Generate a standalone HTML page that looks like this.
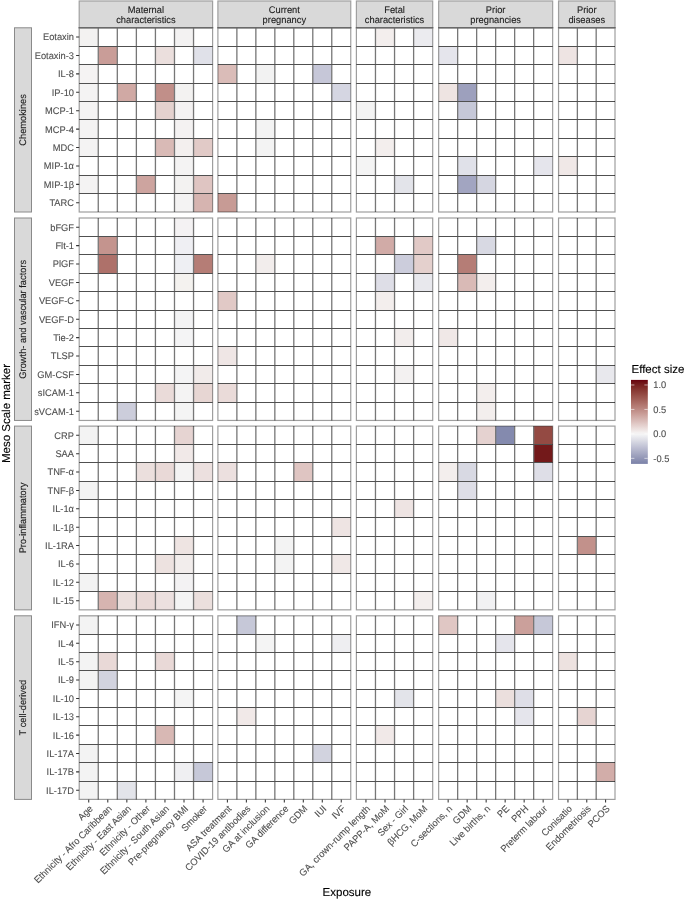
<!DOCTYPE html>
<html><head><meta charset="utf-8"><style>html,body{margin:0;padding:0;background:#fff;width:685px;height:900px;overflow:hidden}svg{display:block;will-change:transform}text{font-family:"Liberation Sans",sans-serif;stroke-width:0.1px;paint-order:fill;text-rendering:geometricPrecision}</style></head>
<body>
<svg width="685" height="900" viewBox="0 0 685 900" font-family="Liberation Sans, sans-serif">
<rect width="685" height="900" fill="#fff"/>
<rect x="79.20" y="27.80" width="19.057" height="18.420" fill="#f3f2f1"/>
<rect x="174.49" y="27.80" width="19.057" height="18.420" fill="#f3f2f2"/>
<rect x="98.26" y="46.22" width="19.057" height="18.420" fill="#c99d98"/>
<rect x="155.43" y="46.22" width="19.057" height="18.420" fill="#ebdfdd"/>
<rect x="193.54" y="46.22" width="19.057" height="18.420" fill="#e0e1e9"/>
<rect x="79.20" y="64.64" width="19.057" height="18.420" fill="#f5f3f3"/>
<rect x="79.20" y="83.06" width="19.057" height="18.420" fill="#f4f3f3"/>
<rect x="117.31" y="83.06" width="19.057" height="18.420" fill="#d0a9a4"/>
<rect x="155.43" y="83.06" width="19.057" height="18.420" fill="#c18f89"/>
<rect x="174.49" y="83.06" width="19.057" height="18.420" fill="#f3f2f1"/>
<rect x="79.20" y="101.48" width="19.057" height="18.420" fill="#f4f3f3"/>
<rect x="155.43" y="101.48" width="19.057" height="18.420" fill="#e4d1ce"/>
<rect x="174.49" y="101.48" width="19.057" height="18.420" fill="#f4f2f2"/>
<rect x="79.20" y="119.90" width="19.057" height="18.420" fill="#f4f3f3"/>
<rect x="174.49" y="119.90" width="19.057" height="18.420" fill="#f4f2f2"/>
<rect x="79.20" y="138.32" width="19.057" height="18.420" fill="#f4f3f3"/>
<rect x="155.43" y="138.32" width="19.057" height="18.420" fill="#d9bab6"/>
<rect x="174.49" y="138.32" width="19.057" height="18.420" fill="#f3efee"/>
<rect x="193.54" y="138.32" width="19.057" height="18.420" fill="#e1cac7"/>
<rect x="174.49" y="156.74" width="19.057" height="18.420" fill="#f4f3f3"/>
<rect x="79.20" y="175.16" width="19.057" height="18.420" fill="#f4f3f3"/>
<rect x="136.37" y="175.16" width="19.057" height="18.420" fill="#cda49f"/>
<rect x="174.49" y="175.16" width="19.057" height="18.420" fill="#f3f2f1"/>
<rect x="193.54" y="175.16" width="19.057" height="18.420" fill="#dfc5c2"/>
<rect x="174.49" y="193.58" width="19.057" height="18.420" fill="#f4f3f3"/>
<rect x="193.54" y="193.58" width="19.057" height="18.420" fill="#d6b4b0"/>
<rect x="174.49" y="218.00" width="19.057" height="18.405" fill="#f4f2f3"/>
<rect x="98.26" y="236.40" width="19.057" height="18.405" fill="#c4948e"/>
<rect x="174.49" y="236.40" width="19.057" height="18.405" fill="#efeff3"/>
<rect x="98.26" y="254.81" width="19.057" height="18.405" fill="#ae716a"/>
<rect x="174.49" y="254.81" width="19.057" height="18.405" fill="#eeeff3"/>
<rect x="193.54" y="254.81" width="19.057" height="18.405" fill="#b57d76"/>
<rect x="174.49" y="273.21" width="19.057" height="18.405" fill="#f4f2ef"/>
<rect x="174.49" y="310.02" width="19.057" height="18.405" fill="#f3f3f4"/>
<rect x="174.49" y="328.43" width="19.057" height="18.405" fill="#f4f4f5"/>
<rect x="174.49" y="365.24" width="19.057" height="18.405" fill="#f4f4f5"/>
<rect x="193.54" y="365.24" width="19.057" height="18.405" fill="#f1ebea"/>
<rect x="155.43" y="383.64" width="19.057" height="18.405" fill="#eadbd9"/>
<rect x="174.49" y="383.64" width="19.057" height="18.405" fill="#f4f3f3"/>
<rect x="193.54" y="383.64" width="19.057" height="18.405" fill="#e7d6d3"/>
<rect x="117.31" y="402.05" width="19.057" height="18.405" fill="#cccddb"/>
<rect x="174.49" y="402.05" width="19.057" height="18.405" fill="#f4f4f4"/>
<rect x="79.20" y="426.10" width="19.057" height="18.375" fill="#f3f3f3"/>
<rect x="174.49" y="426.10" width="19.057" height="18.375" fill="#e6d4d2"/>
<rect x="174.49" y="444.48" width="19.057" height="18.375" fill="#f1e9e8"/>
<rect x="136.37" y="462.85" width="19.057" height="18.375" fill="#ebdfdd"/>
<rect x="155.43" y="462.85" width="19.057" height="18.375" fill="#e9d9d7"/>
<rect x="174.49" y="462.85" width="19.057" height="18.375" fill="#f4f3f3"/>
<rect x="193.54" y="462.85" width="19.057" height="18.375" fill="#ece0df"/>
<rect x="79.20" y="481.23" width="19.057" height="18.375" fill="#f3f3f3"/>
<rect x="174.49" y="536.35" width="19.057" height="18.375" fill="#eee4e2"/>
<rect x="155.43" y="554.73" width="19.057" height="18.375" fill="#ede2e0"/>
<rect x="174.49" y="554.73" width="19.057" height="18.375" fill="#f2edec"/>
<rect x="79.20" y="573.10" width="19.057" height="18.375" fill="#f3f3f3"/>
<rect x="174.49" y="573.10" width="19.057" height="18.375" fill="#f3f2f3"/>
<rect x="98.26" y="591.48" width="19.057" height="18.375" fill="#d6b4b0"/>
<rect x="117.31" y="591.48" width="19.057" height="18.375" fill="#ebdfdd"/>
<rect x="136.37" y="591.48" width="19.057" height="18.375" fill="#e9d9d7"/>
<rect x="155.43" y="591.48" width="19.057" height="18.375" fill="#ece0df"/>
<rect x="174.49" y="591.48" width="19.057" height="18.375" fill="#f4f4f4"/>
<rect x="193.54" y="591.48" width="19.057" height="18.375" fill="#ebdfdd"/>
<rect x="79.20" y="615.80" width="19.057" height="18.360" fill="#f3f3f3"/>
<rect x="79.20" y="652.52" width="19.057" height="18.360" fill="#f3f3f3"/>
<rect x="98.26" y="652.52" width="19.057" height="18.360" fill="#e9d9d7"/>
<rect x="155.43" y="652.52" width="19.057" height="18.360" fill="#e9d9d7"/>
<rect x="79.20" y="670.88" width="19.057" height="18.360" fill="#f3f3f3"/>
<rect x="98.26" y="670.88" width="19.057" height="18.360" fill="#d2d3df"/>
<rect x="174.49" y="689.24" width="19.057" height="18.360" fill="#f4f4f4"/>
<rect x="155.43" y="725.96" width="19.057" height="18.360" fill="#d8b8b4"/>
<rect x="79.20" y="744.32" width="19.057" height="18.360" fill="#f3f3f3"/>
<rect x="79.20" y="762.68" width="19.057" height="18.360" fill="#f3f3f3"/>
<rect x="174.49" y="762.68" width="19.057" height="18.360" fill="#efeff2"/>
<rect x="193.54" y="762.68" width="19.057" height="18.360" fill="#c6c8d8"/>
<rect x="79.20" y="781.04" width="19.057" height="18.360" fill="#f3f3f3"/>
<rect x="117.31" y="781.04" width="19.057" height="18.360" fill="#e3e4ea"/>
<rect x="217.90" y="64.64" width="18.979" height="18.420" fill="#dabcb8"/>
<rect x="255.86" y="64.64" width="18.979" height="18.420" fill="#f2f2f2"/>
<rect x="312.79" y="64.64" width="18.979" height="18.420" fill="#c6c7d8"/>
<rect x="331.77" y="83.06" width="18.979" height="18.420" fill="#d5d6e2"/>
<rect x="255.86" y="119.90" width="18.979" height="18.420" fill="#f3f3f3"/>
<rect x="255.86" y="138.32" width="18.979" height="18.420" fill="#f3f3f3"/>
<rect x="217.90" y="193.58" width="18.979" height="18.420" fill="#c79b95"/>
<rect x="255.86" y="254.81" width="18.979" height="18.405" fill="#f2edec"/>
<rect x="217.90" y="291.62" width="18.979" height="18.405" fill="#e1c9c6"/>
<rect x="217.90" y="346.83" width="18.979" height="18.405" fill="#efe6e5"/>
<rect x="217.90" y="383.64" width="18.979" height="18.405" fill="#eadbd9"/>
<rect x="217.90" y="462.85" width="18.979" height="18.375" fill="#ece0df"/>
<rect x="293.81" y="462.85" width="18.979" height="18.375" fill="#dfc5c2"/>
<rect x="331.77" y="517.98" width="18.979" height="18.375" fill="#eee4e3"/>
<rect x="274.84" y="536.35" width="18.979" height="18.375" fill="#f3f3f3"/>
<rect x="274.84" y="554.73" width="18.979" height="18.375" fill="#f3f3f3"/>
<rect x="331.77" y="554.73" width="18.979" height="18.375" fill="#f0e8e7"/>
<rect x="236.88" y="615.80" width="18.979" height="18.360" fill="#c6c8d8"/>
<rect x="255.86" y="634.16" width="18.979" height="18.360" fill="#f4f4f4"/>
<rect x="331.77" y="634.16" width="18.979" height="18.360" fill="#eeeef1"/>
<rect x="236.88" y="707.60" width="18.979" height="18.360" fill="#f1e9e8"/>
<rect x="312.79" y="744.32" width="18.979" height="18.360" fill="#d2d3df"/>
<rect x="375.47" y="27.80" width="19.075" height="18.420" fill="#f3eeed"/>
<rect x="413.62" y="27.80" width="19.075" height="18.420" fill="#ebebef"/>
<rect x="356.40" y="101.48" width="19.075" height="18.420" fill="#f3f3f3"/>
<rect x="375.47" y="138.32" width="19.075" height="18.420" fill="#f3eeed"/>
<rect x="356.40" y="156.74" width="19.075" height="18.420" fill="#f4f4f4"/>
<rect x="394.55" y="175.16" width="19.075" height="18.420" fill="#e3e4ea"/>
<rect x="375.47" y="236.40" width="19.075" height="18.405" fill="#d1aba7"/>
<rect x="413.62" y="236.40" width="19.075" height="18.405" fill="#e1c9c6"/>
<rect x="394.55" y="254.81" width="19.075" height="18.405" fill="#cccddc"/>
<rect x="413.62" y="254.81" width="19.075" height="18.405" fill="#e4d0cd"/>
<rect x="375.47" y="273.21" width="19.075" height="18.405" fill="#dedee7"/>
<rect x="413.62" y="273.21" width="19.075" height="18.405" fill="#e8e8ed"/>
<rect x="375.47" y="291.62" width="19.075" height="18.405" fill="#f3eeed"/>
<rect x="394.55" y="328.43" width="19.075" height="18.405" fill="#f2edec"/>
<rect x="394.55" y="365.24" width="19.075" height="18.405" fill="#f3f1f1"/>
<rect x="394.55" y="499.60" width="19.075" height="18.375" fill="#eee4e3"/>
<rect x="413.62" y="591.48" width="19.075" height="18.375" fill="#f3eeed"/>
<rect x="394.55" y="689.24" width="19.075" height="18.360" fill="#e3e4ea"/>
<rect x="375.47" y="725.96" width="19.075" height="18.360" fill="#f1e9e8"/>
<rect x="438.65" y="46.22" width="19.000" height="18.420" fill="#e5e5ec"/>
<rect x="438.65" y="83.06" width="19.000" height="18.420" fill="#eee4e2"/>
<rect x="457.65" y="83.06" width="19.000" height="18.420" fill="#9da0bd"/>
<rect x="457.65" y="101.48" width="19.000" height="18.420" fill="#c6c8d8"/>
<rect x="457.65" y="156.74" width="19.000" height="18.420" fill="#e0e1e9"/>
<rect x="533.65" y="156.74" width="19.000" height="18.420" fill="#e5e5ec"/>
<rect x="457.65" y="175.16" width="19.000" height="18.420" fill="#a2a5c1"/>
<rect x="476.65" y="175.16" width="19.000" height="18.420" fill="#d5d6e1"/>
<rect x="476.65" y="236.40" width="19.000" height="18.405" fill="#d8d9e3"/>
<rect x="457.65" y="254.81" width="19.000" height="18.405" fill="#b57d76"/>
<rect x="457.65" y="273.21" width="19.000" height="18.405" fill="#d9bab6"/>
<rect x="476.65" y="273.21" width="19.000" height="18.405" fill="#f3eeed"/>
<rect x="438.65" y="328.43" width="19.000" height="18.405" fill="#f0e8e7"/>
<rect x="476.65" y="383.64" width="19.000" height="18.405" fill="#f3eeed"/>
<rect x="476.65" y="402.05" width="19.000" height="18.405" fill="#f3eeed"/>
<rect x="476.65" y="426.10" width="19.000" height="18.375" fill="#e5d2d0"/>
<rect x="495.65" y="426.10" width="19.000" height="18.375" fill="#848aae"/>
<rect x="533.65" y="426.10" width="19.000" height="18.375" fill="#944a43"/>
<rect x="533.65" y="444.48" width="19.000" height="18.375" fill="#73191a"/>
<rect x="438.65" y="462.85" width="19.000" height="18.375" fill="#f3eeed"/>
<rect x="457.65" y="462.85" width="19.000" height="18.375" fill="#d8d9e3"/>
<rect x="533.65" y="462.85" width="19.000" height="18.375" fill="#dedee7"/>
<rect x="457.65" y="481.23" width="19.000" height="18.375" fill="#dedee7"/>
<rect x="476.65" y="591.48" width="19.000" height="18.375" fill="#f1f1f3"/>
<rect x="438.65" y="615.80" width="19.000" height="18.360" fill="#e0c7c4"/>
<rect x="514.65" y="615.80" width="19.000" height="18.360" fill="#cba09b"/>
<rect x="533.65" y="615.80" width="19.000" height="18.360" fill="#c6c8d8"/>
<rect x="495.65" y="634.16" width="19.000" height="18.360" fill="#e5e5ec"/>
<rect x="495.65" y="689.24" width="19.000" height="18.360" fill="#ebdfdd"/>
<rect x="514.65" y="689.24" width="19.000" height="18.360" fill="#dedee7"/>
<rect x="514.65" y="707.60" width="19.000" height="18.360" fill="#e5e5ec"/>
<rect x="558.55" y="46.22" width="18.817" height="18.420" fill="#eee4e3"/>
<rect x="558.55" y="156.74" width="18.817" height="18.420" fill="#f0e8e7"/>
<rect x="596.18" y="365.24" width="18.817" height="18.405" fill="#e8e8ed"/>
<rect x="577.37" y="536.35" width="18.817" height="18.375" fill="#c2918b"/>
<rect x="558.55" y="652.52" width="18.817" height="18.360" fill="#ede2e0"/>
<rect x="577.37" y="707.60" width="18.817" height="18.360" fill="#e6d4d2"/>
<rect x="596.18" y="762.68" width="18.817" height="18.360" fill="#d2ada9"/>
<path d="M98.26 27.80V212.00M117.31 27.80V212.00M136.37 27.80V212.00M155.43 27.80V212.00M174.49 27.80V212.00M193.54 27.80V212.00" stroke="#777777" stroke-width="1.3" fill="none"/>
<path d="M79.20 46.50H212.60M79.20 64.50H212.60M79.20 83.50H212.60M79.20 101.50H212.60M79.20 119.50H212.60M79.20 138.50H212.60M79.20 156.50H212.60M79.20 175.50H212.60M79.20 193.50H212.60" stroke="#505050" stroke-width="1.0" fill="none"/>
<path d="M98.26 218.00V420.45M117.31 218.00V420.45M136.37 218.00V420.45M155.43 218.00V420.45M174.49 218.00V420.45M193.54 218.00V420.45" stroke="#777777" stroke-width="1.3" fill="none"/>
<path d="M79.20 236.50H212.60M79.20 254.50H212.60M79.20 273.50H212.60M79.20 291.50H212.60M79.20 310.50H212.60M79.20 328.50H212.60M79.20 346.50H212.60M79.20 365.50H212.60M79.20 383.50H212.60M79.20 402.50H212.60" stroke="#505050" stroke-width="1.0" fill="none"/>
<path d="M98.26 426.10V609.85M117.31 426.10V609.85M136.37 426.10V609.85M155.43 426.10V609.85M174.49 426.10V609.85M193.54 426.10V609.85" stroke="#777777" stroke-width="1.3" fill="none"/>
<path d="M79.20 444.50H212.60M79.20 462.50H212.60M79.20 481.50H212.60M79.20 499.50H212.60M79.20 517.50H212.60M79.20 536.50H212.60M79.20 554.50H212.60M79.20 573.50H212.60M79.20 591.50H212.60" stroke="#505050" stroke-width="1.0" fill="none"/>
<path d="M98.26 615.80V799.40M117.31 615.80V799.40M136.37 615.80V799.40M155.43 615.80V799.40M174.49 615.80V799.40M193.54 615.80V799.40" stroke="#777777" stroke-width="1.3" fill="none"/>
<path d="M79.20 634.50H212.60M79.20 652.50H212.60M79.20 670.50H212.60M79.20 689.50H212.60M79.20 707.50H212.60M79.20 725.50H212.60M79.20 744.50H212.60M79.20 762.50H212.60M79.20 781.50H212.60" stroke="#505050" stroke-width="1.0" fill="none"/>
<path d="M236.88 27.80V212.00M255.86 27.80V212.00M274.84 27.80V212.00M293.81 27.80V212.00M312.79 27.80V212.00M331.77 27.80V212.00" stroke="#777777" stroke-width="1.3" fill="none"/>
<path d="M217.90 46.50H350.75M217.90 64.50H350.75M217.90 83.50H350.75M217.90 101.50H350.75M217.90 119.50H350.75M217.90 138.50H350.75M217.90 156.50H350.75M217.90 175.50H350.75M217.90 193.50H350.75" stroke="#505050" stroke-width="1.0" fill="none"/>
<path d="M236.88 218.00V420.45M255.86 218.00V420.45M274.84 218.00V420.45M293.81 218.00V420.45M312.79 218.00V420.45M331.77 218.00V420.45" stroke="#777777" stroke-width="1.3" fill="none"/>
<path d="M217.90 236.50H350.75M217.90 254.50H350.75M217.90 273.50H350.75M217.90 291.50H350.75M217.90 310.50H350.75M217.90 328.50H350.75M217.90 346.50H350.75M217.90 365.50H350.75M217.90 383.50H350.75M217.90 402.50H350.75" stroke="#505050" stroke-width="1.0" fill="none"/>
<path d="M236.88 426.10V609.85M255.86 426.10V609.85M274.84 426.10V609.85M293.81 426.10V609.85M312.79 426.10V609.85M331.77 426.10V609.85" stroke="#777777" stroke-width="1.3" fill="none"/>
<path d="M217.90 444.50H350.75M217.90 462.50H350.75M217.90 481.50H350.75M217.90 499.50H350.75M217.90 517.50H350.75M217.90 536.50H350.75M217.90 554.50H350.75M217.90 573.50H350.75M217.90 591.50H350.75" stroke="#505050" stroke-width="1.0" fill="none"/>
<path d="M236.88 615.80V799.40M255.86 615.80V799.40M274.84 615.80V799.40M293.81 615.80V799.40M312.79 615.80V799.40M331.77 615.80V799.40" stroke="#777777" stroke-width="1.3" fill="none"/>
<path d="M217.90 634.50H350.75M217.90 652.50H350.75M217.90 670.50H350.75M217.90 689.50H350.75M217.90 707.50H350.75M217.90 725.50H350.75M217.90 744.50H350.75M217.90 762.50H350.75M217.90 781.50H350.75" stroke="#505050" stroke-width="1.0" fill="none"/>
<path d="M375.47 27.80V212.00M394.55 27.80V212.00M413.62 27.80V212.00" stroke="#777777" stroke-width="1.3" fill="none"/>
<path d="M356.40 46.50H432.70M356.40 64.50H432.70M356.40 83.50H432.70M356.40 101.50H432.70M356.40 119.50H432.70M356.40 138.50H432.70M356.40 156.50H432.70M356.40 175.50H432.70M356.40 193.50H432.70" stroke="#505050" stroke-width="1.0" fill="none"/>
<path d="M375.47 218.00V420.45M394.55 218.00V420.45M413.62 218.00V420.45" stroke="#777777" stroke-width="1.3" fill="none"/>
<path d="M356.40 236.50H432.70M356.40 254.50H432.70M356.40 273.50H432.70M356.40 291.50H432.70M356.40 310.50H432.70M356.40 328.50H432.70M356.40 346.50H432.70M356.40 365.50H432.70M356.40 383.50H432.70M356.40 402.50H432.70" stroke="#505050" stroke-width="1.0" fill="none"/>
<path d="M375.47 426.10V609.85M394.55 426.10V609.85M413.62 426.10V609.85" stroke="#777777" stroke-width="1.3" fill="none"/>
<path d="M356.40 444.50H432.70M356.40 462.50H432.70M356.40 481.50H432.70M356.40 499.50H432.70M356.40 517.50H432.70M356.40 536.50H432.70M356.40 554.50H432.70M356.40 573.50H432.70M356.40 591.50H432.70" stroke="#505050" stroke-width="1.0" fill="none"/>
<path d="M375.47 615.80V799.40M394.55 615.80V799.40M413.62 615.80V799.40" stroke="#777777" stroke-width="1.3" fill="none"/>
<path d="M356.40 634.50H432.70M356.40 652.50H432.70M356.40 670.50H432.70M356.40 689.50H432.70M356.40 707.50H432.70M356.40 725.50H432.70M356.40 744.50H432.70M356.40 762.50H432.70M356.40 781.50H432.70" stroke="#505050" stroke-width="1.0" fill="none"/>
<path d="M457.65 27.80V212.00M476.65 27.80V212.00M495.65 27.80V212.00M514.65 27.80V212.00M533.65 27.80V212.00" stroke="#777777" stroke-width="1.3" fill="none"/>
<path d="M438.65 46.50H552.65M438.65 64.50H552.65M438.65 83.50H552.65M438.65 101.50H552.65M438.65 119.50H552.65M438.65 138.50H552.65M438.65 156.50H552.65M438.65 175.50H552.65M438.65 193.50H552.65" stroke="#505050" stroke-width="1.0" fill="none"/>
<path d="M457.65 218.00V420.45M476.65 218.00V420.45M495.65 218.00V420.45M514.65 218.00V420.45M533.65 218.00V420.45" stroke="#777777" stroke-width="1.3" fill="none"/>
<path d="M438.65 236.50H552.65M438.65 254.50H552.65M438.65 273.50H552.65M438.65 291.50H552.65M438.65 310.50H552.65M438.65 328.50H552.65M438.65 346.50H552.65M438.65 365.50H552.65M438.65 383.50H552.65M438.65 402.50H552.65" stroke="#505050" stroke-width="1.0" fill="none"/>
<path d="M457.65 426.10V609.85M476.65 426.10V609.85M495.65 426.10V609.85M514.65 426.10V609.85M533.65 426.10V609.85" stroke="#777777" stroke-width="1.3" fill="none"/>
<path d="M438.65 444.50H552.65M438.65 462.50H552.65M438.65 481.50H552.65M438.65 499.50H552.65M438.65 517.50H552.65M438.65 536.50H552.65M438.65 554.50H552.65M438.65 573.50H552.65M438.65 591.50H552.65" stroke="#505050" stroke-width="1.0" fill="none"/>
<path d="M457.65 615.80V799.40M476.65 615.80V799.40M495.65 615.80V799.40M514.65 615.80V799.40M533.65 615.80V799.40" stroke="#777777" stroke-width="1.3" fill="none"/>
<path d="M438.65 634.50H552.65M438.65 652.50H552.65M438.65 670.50H552.65M438.65 689.50H552.65M438.65 707.50H552.65M438.65 725.50H552.65M438.65 744.50H552.65M438.65 762.50H552.65M438.65 781.50H552.65" stroke="#505050" stroke-width="1.0" fill="none"/>
<path d="M577.37 27.80V212.00M596.18 27.80V212.00" stroke="#777777" stroke-width="1.3" fill="none"/>
<path d="M558.55 46.50H615.00M558.55 64.50H615.00M558.55 83.50H615.00M558.55 101.50H615.00M558.55 119.50H615.00M558.55 138.50H615.00M558.55 156.50H615.00M558.55 175.50H615.00M558.55 193.50H615.00" stroke="#505050" stroke-width="1.0" fill="none"/>
<path d="M577.37 218.00V420.45M596.18 218.00V420.45" stroke="#777777" stroke-width="1.3" fill="none"/>
<path d="M558.55 236.50H615.00M558.55 254.50H615.00M558.55 273.50H615.00M558.55 291.50H615.00M558.55 310.50H615.00M558.55 328.50H615.00M558.55 346.50H615.00M558.55 365.50H615.00M558.55 383.50H615.00M558.55 402.50H615.00" stroke="#505050" stroke-width="1.0" fill="none"/>
<path d="M577.37 426.10V609.85M596.18 426.10V609.85" stroke="#777777" stroke-width="1.3" fill="none"/>
<path d="M558.55 444.50H615.00M558.55 462.50H615.00M558.55 481.50H615.00M558.55 499.50H615.00M558.55 517.50H615.00M558.55 536.50H615.00M558.55 554.50H615.00M558.55 573.50H615.00M558.55 591.50H615.00" stroke="#505050" stroke-width="1.0" fill="none"/>
<path d="M577.37 615.80V799.40M596.18 615.80V799.40" stroke="#777777" stroke-width="1.3" fill="none"/>
<path d="M558.55 634.50H615.00M558.55 652.50H615.00M558.55 670.50H615.00M558.55 689.50H615.00M558.55 707.50H615.00M558.55 725.50H615.00M558.55 744.50H615.00M558.55 762.50H615.00M558.55 781.50H615.00" stroke="#505050" stroke-width="1.0" fill="none"/>
<rect x="79.20" y="27.80" width="133.40" height="184.20" stroke="rgba(0,0,0,0.38)" stroke-width="1.2" fill="none"/>
<rect x="79.20" y="218.00" width="133.40" height="202.45" stroke="rgba(0,0,0,0.38)" stroke-width="1.2" fill="none"/>
<rect x="79.20" y="426.10" width="133.40" height="183.75" stroke="rgba(0,0,0,0.38)" stroke-width="1.2" fill="none"/>
<rect x="79.20" y="615.80" width="133.40" height="183.60" stroke="rgba(0,0,0,0.38)" stroke-width="1.2" fill="none"/>
<rect x="217.90" y="27.80" width="132.85" height="184.20" stroke="rgba(0,0,0,0.38)" stroke-width="1.2" fill="none"/>
<rect x="217.90" y="218.00" width="132.85" height="202.45" stroke="rgba(0,0,0,0.38)" stroke-width="1.2" fill="none"/>
<rect x="217.90" y="426.10" width="132.85" height="183.75" stroke="rgba(0,0,0,0.38)" stroke-width="1.2" fill="none"/>
<rect x="217.90" y="615.80" width="132.85" height="183.60" stroke="rgba(0,0,0,0.38)" stroke-width="1.2" fill="none"/>
<rect x="356.40" y="27.80" width="76.30" height="184.20" stroke="rgba(0,0,0,0.38)" stroke-width="1.2" fill="none"/>
<rect x="356.40" y="218.00" width="76.30" height="202.45" stroke="rgba(0,0,0,0.38)" stroke-width="1.2" fill="none"/>
<rect x="356.40" y="426.10" width="76.30" height="183.75" stroke="rgba(0,0,0,0.38)" stroke-width="1.2" fill="none"/>
<rect x="356.40" y="615.80" width="76.30" height="183.60" stroke="rgba(0,0,0,0.38)" stroke-width="1.2" fill="none"/>
<rect x="438.65" y="27.80" width="114.00" height="184.20" stroke="rgba(0,0,0,0.38)" stroke-width="1.2" fill="none"/>
<rect x="438.65" y="218.00" width="114.00" height="202.45" stroke="rgba(0,0,0,0.38)" stroke-width="1.2" fill="none"/>
<rect x="438.65" y="426.10" width="114.00" height="183.75" stroke="rgba(0,0,0,0.38)" stroke-width="1.2" fill="none"/>
<rect x="438.65" y="615.80" width="114.00" height="183.60" stroke="rgba(0,0,0,0.38)" stroke-width="1.2" fill="none"/>
<rect x="558.55" y="27.80" width="56.45" height="184.20" stroke="rgba(0,0,0,0.38)" stroke-width="1.2" fill="none"/>
<rect x="558.55" y="218.00" width="56.45" height="202.45" stroke="rgba(0,0,0,0.38)" stroke-width="1.2" fill="none"/>
<rect x="558.55" y="426.10" width="56.45" height="183.75" stroke="rgba(0,0,0,0.38)" stroke-width="1.2" fill="none"/>
<rect x="558.55" y="615.80" width="56.45" height="183.60" stroke="rgba(0,0,0,0.38)" stroke-width="1.2" fill="none"/>
<rect x="79.20" y="1.0" width="133.40" height="26.80" fill="#D9D9D9" stroke="#a0a0a0" stroke-width="1.2"/>
<path d="M78.60 27.80H213.20" stroke="#4a4a4a" stroke-width="0.95"/>
<text transform="translate(145.90 12.90) scale(1 1.035)" font-size="9.3" fill="#1A1A1A" stroke="#1A1A1A" text-anchor="middle">Maternal</text>
<text transform="translate(145.90 22.80) scale(1 1.035)" font-size="9.3" fill="#1A1A1A" stroke="#1A1A1A" text-anchor="middle">characteristics</text>
<rect x="217.90" y="1.0" width="132.85" height="26.80" fill="#D9D9D9" stroke="#a0a0a0" stroke-width="1.2"/>
<path d="M217.30 27.80H351.35" stroke="#4a4a4a" stroke-width="0.95"/>
<text transform="translate(284.32 12.90) scale(1 1.035)" font-size="9.3" fill="#1A1A1A" stroke="#1A1A1A" text-anchor="middle">Current</text>
<text transform="translate(284.32 22.80) scale(1 1.035)" font-size="9.3" fill="#1A1A1A" stroke="#1A1A1A" text-anchor="middle">pregnancy</text>
<rect x="356.40" y="1.0" width="76.30" height="26.80" fill="#D9D9D9" stroke="#a0a0a0" stroke-width="1.2"/>
<path d="M355.80 27.80H433.30" stroke="#4a4a4a" stroke-width="0.95"/>
<text transform="translate(394.55 12.90) scale(1 1.035)" font-size="9.3" fill="#1A1A1A" stroke="#1A1A1A" text-anchor="middle">Fetal</text>
<text transform="translate(394.55 22.80) scale(1 1.035)" font-size="9.3" fill="#1A1A1A" stroke="#1A1A1A" text-anchor="middle">characteristics</text>
<rect x="438.65" y="1.0" width="114.00" height="26.80" fill="#D9D9D9" stroke="#a0a0a0" stroke-width="1.2"/>
<path d="M438.05 27.80H553.25" stroke="#4a4a4a" stroke-width="0.95"/>
<text transform="translate(495.65 12.90) scale(1 1.035)" font-size="9.3" fill="#1A1A1A" stroke="#1A1A1A" text-anchor="middle">Prior</text>
<text transform="translate(495.65 22.80) scale(1 1.035)" font-size="9.3" fill="#1A1A1A" stroke="#1A1A1A" text-anchor="middle">pregnancies</text>
<rect x="558.55" y="1.0" width="56.45" height="26.80" fill="#D9D9D9" stroke="#a0a0a0" stroke-width="1.2"/>
<path d="M557.95 27.80H615.60" stroke="#4a4a4a" stroke-width="0.95"/>
<text transform="translate(586.77 12.90) scale(1 1.035)" font-size="9.3" fill="#1A1A1A" stroke="#1A1A1A" text-anchor="middle">Prior</text>
<text transform="translate(586.77 22.80) scale(1 1.035)" font-size="9.3" fill="#1A1A1A" stroke="#1A1A1A" text-anchor="middle">diseases</text>
<rect x="14.5" y="27.80" width="17.00" height="184.20" fill="#D9D9D9" stroke="#8a8a8a" stroke-width="1.0"/>
<text transform="translate(26.30 119.90) rotate(-90) scale(1 1.035)" font-size="9.3" fill="#1A1A1A" stroke="#1A1A1A" text-anchor="middle">Chemokines</text>
<rect x="14.5" y="218.00" width="17.00" height="202.45" fill="#D9D9D9" stroke="#8a8a8a" stroke-width="1.0"/>
<text transform="translate(26.30 319.23) rotate(-90) scale(1 1.035)" font-size="9.3" fill="#1A1A1A" stroke="#1A1A1A" text-anchor="middle">Growth- and vascular factors</text>
<rect x="14.5" y="426.10" width="17.00" height="183.75" fill="#D9D9D9" stroke="#8a8a8a" stroke-width="1.0"/>
<text transform="translate(26.30 517.98) rotate(-90) scale(1 1.035)" font-size="9.3" fill="#1A1A1A" stroke="#1A1A1A" text-anchor="middle">Pro-inflammatory</text>
<rect x="14.5" y="615.80" width="17.00" height="183.60" fill="#D9D9D9" stroke="#8a8a8a" stroke-width="1.0"/>
<text transform="translate(26.30 707.60) rotate(-90) scale(1 1.035)" font-size="9.3" fill="#1A1A1A" stroke="#1A1A1A" text-anchor="middle">T cell-derived</text>
<text transform="translate(74.00 40.41) scale(1 1.035)" font-size="9.3" fill="#4D4D4D" stroke="#4D4D4D" text-anchor="end">Eotaxin</text>
<text transform="translate(74.00 58.83) scale(1 1.035)" font-size="9.3" fill="#4D4D4D" stroke="#4D4D4D" text-anchor="end">Eotaxin-3</text>
<text transform="translate(74.00 77.25) scale(1 1.035)" font-size="9.3" fill="#4D4D4D" stroke="#4D4D4D" text-anchor="end">IL-8</text>
<text transform="translate(74.00 95.67) scale(1 1.035)" font-size="9.3" fill="#4D4D4D" stroke="#4D4D4D" text-anchor="end">IP-10</text>
<text transform="translate(74.00 114.09) scale(1 1.035)" font-size="9.3" fill="#4D4D4D" stroke="#4D4D4D" text-anchor="end">MCP-1</text>
<text transform="translate(74.00 132.51) scale(1 1.035)" font-size="9.3" fill="#4D4D4D" stroke="#4D4D4D" text-anchor="end">MCP-4</text>
<text transform="translate(74.00 150.93) scale(1 1.035)" font-size="9.3" fill="#4D4D4D" stroke="#4D4D4D" text-anchor="end">MDC</text>
<text transform="translate(74.00 169.35) scale(1 1.035)" font-size="9.3" fill="#4D4D4D" stroke="#4D4D4D" text-anchor="end">MIP-1α</text>
<text transform="translate(74.00 187.77) scale(1 1.035)" font-size="9.3" fill="#4D4D4D" stroke="#4D4D4D" text-anchor="end">MIP-1β</text>
<text transform="translate(74.00 206.19) scale(1 1.035)" font-size="9.3" fill="#4D4D4D" stroke="#4D4D4D" text-anchor="end">TARC</text>
<text transform="translate(74.00 230.60) scale(1 1.035)" font-size="9.3" fill="#4D4D4D" stroke="#4D4D4D" text-anchor="end">bFGF</text>
<text transform="translate(74.00 249.01) scale(1 1.035)" font-size="9.3" fill="#4D4D4D" stroke="#4D4D4D" text-anchor="end">Flt-1</text>
<text transform="translate(74.00 267.41) scale(1 1.035)" font-size="9.3" fill="#4D4D4D" stroke="#4D4D4D" text-anchor="end">PlGF</text>
<text transform="translate(74.00 285.82) scale(1 1.035)" font-size="9.3" fill="#4D4D4D" stroke="#4D4D4D" text-anchor="end">VEGF</text>
<text transform="translate(74.00 304.22) scale(1 1.035)" font-size="9.3" fill="#4D4D4D" stroke="#4D4D4D" text-anchor="end">VEGF-C</text>
<text transform="translate(74.00 322.62) scale(1 1.035)" font-size="9.3" fill="#4D4D4D" stroke="#4D4D4D" text-anchor="end">VEGF-D</text>
<text transform="translate(74.00 341.03) scale(1 1.035)" font-size="9.3" fill="#4D4D4D" stroke="#4D4D4D" text-anchor="end">Tie-2</text>
<text transform="translate(74.00 359.43) scale(1 1.035)" font-size="9.3" fill="#4D4D4D" stroke="#4D4D4D" text-anchor="end">TLSP</text>
<text transform="translate(74.00 377.84) scale(1 1.035)" font-size="9.3" fill="#4D4D4D" stroke="#4D4D4D" text-anchor="end">GM-CSF</text>
<text transform="translate(74.00 396.24) scale(1 1.035)" font-size="9.3" fill="#4D4D4D" stroke="#4D4D4D" text-anchor="end">sICAM-1</text>
<text transform="translate(74.00 414.65) scale(1 1.035)" font-size="9.3" fill="#4D4D4D" stroke="#4D4D4D" text-anchor="end">sVCAM-1</text>
<text transform="translate(74.00 438.69) scale(1 1.035)" font-size="9.3" fill="#4D4D4D" stroke="#4D4D4D" text-anchor="end">CRP</text>
<text transform="translate(74.00 457.06) scale(1 1.035)" font-size="9.3" fill="#4D4D4D" stroke="#4D4D4D" text-anchor="end">SAA</text>
<text transform="translate(74.00 475.44) scale(1 1.035)" font-size="9.3" fill="#4D4D4D" stroke="#4D4D4D" text-anchor="end">TNF-α</text>
<text transform="translate(74.00 493.81) scale(1 1.035)" font-size="9.3" fill="#4D4D4D" stroke="#4D4D4D" text-anchor="end">TNF-β</text>
<text transform="translate(74.00 512.19) scale(1 1.035)" font-size="9.3" fill="#4D4D4D" stroke="#4D4D4D" text-anchor="end">IL-1α</text>
<text transform="translate(74.00 530.56) scale(1 1.035)" font-size="9.3" fill="#4D4D4D" stroke="#4D4D4D" text-anchor="end">IL-1β</text>
<text transform="translate(74.00 548.94) scale(1 1.035)" font-size="9.3" fill="#4D4D4D" stroke="#4D4D4D" text-anchor="end">IL-1RA</text>
<text transform="translate(74.00 567.31) scale(1 1.035)" font-size="9.3" fill="#4D4D4D" stroke="#4D4D4D" text-anchor="end">IL-6</text>
<text transform="translate(74.00 585.69) scale(1 1.035)" font-size="9.3" fill="#4D4D4D" stroke="#4D4D4D" text-anchor="end">IL-12</text>
<text transform="translate(74.00 604.06) scale(1 1.035)" font-size="9.3" fill="#4D4D4D" stroke="#4D4D4D" text-anchor="end">IL-15</text>
<text transform="translate(74.00 628.38) scale(1 1.035)" font-size="9.3" fill="#4D4D4D" stroke="#4D4D4D" text-anchor="end">IFN-γ</text>
<text transform="translate(74.00 646.74) scale(1 1.035)" font-size="9.3" fill="#4D4D4D" stroke="#4D4D4D" text-anchor="end">IL-4</text>
<text transform="translate(74.00 665.10) scale(1 1.035)" font-size="9.3" fill="#4D4D4D" stroke="#4D4D4D" text-anchor="end">IL-5</text>
<text transform="translate(74.00 683.46) scale(1 1.035)" font-size="9.3" fill="#4D4D4D" stroke="#4D4D4D" text-anchor="end">IL-9</text>
<text transform="translate(74.00 701.82) scale(1 1.035)" font-size="9.3" fill="#4D4D4D" stroke="#4D4D4D" text-anchor="end">IL-10</text>
<text transform="translate(74.00 720.18) scale(1 1.035)" font-size="9.3" fill="#4D4D4D" stroke="#4D4D4D" text-anchor="end">IL-13</text>
<text transform="translate(74.00 738.54) scale(1 1.035)" font-size="9.3" fill="#4D4D4D" stroke="#4D4D4D" text-anchor="end">IL-16</text>
<text transform="translate(74.00 756.90) scale(1 1.035)" font-size="9.3" fill="#4D4D4D" stroke="#4D4D4D" text-anchor="end">IL-17A</text>
<text transform="translate(74.00 775.26) scale(1 1.035)" font-size="9.3" fill="#4D4D4D" stroke="#4D4D4D" text-anchor="end">IL-17B</text>
<text transform="translate(74.00 793.62) scale(1 1.035)" font-size="9.3" fill="#4D4D4D" stroke="#4D4D4D" text-anchor="end">IL-17D</text>
<text transform="translate(88.73 804.57) rotate(-45) translate(0.00 6.70) scale(1 1.035)" font-size="9.3" fill="#4D4D4D" stroke="#4D4D4D" text-anchor="end">Age</text>
<text transform="translate(107.79 804.57) rotate(-45) translate(0.00 6.70) scale(1 1.035)" font-size="9.3" fill="#4D4D4D" stroke="#4D4D4D" text-anchor="end">Ethnicity - Afro Caribbean</text>
<text transform="translate(126.84 804.57) rotate(-45) translate(0.00 6.70) scale(1 1.035)" font-size="9.3" fill="#4D4D4D" stroke="#4D4D4D" text-anchor="end">Ethnicity - East Asian</text>
<text transform="translate(145.90 804.57) rotate(-45) translate(0.00 6.70) scale(1 1.035)" font-size="9.3" fill="#4D4D4D" stroke="#4D4D4D" text-anchor="end">Ethnicity - Other</text>
<text transform="translate(164.96 804.57) rotate(-45) translate(0.00 6.70) scale(1 1.035)" font-size="9.3" fill="#4D4D4D" stroke="#4D4D4D" text-anchor="end">Ethnicity - South Asian</text>
<text transform="translate(184.01 804.57) rotate(-45) translate(0.00 6.70) scale(1 1.035)" font-size="9.3" fill="#4D4D4D" stroke="#4D4D4D" text-anchor="end">Pre-pregnancy BMI</text>
<text transform="translate(203.07 804.57) rotate(-45) translate(0.00 6.70) scale(1 1.035)" font-size="9.3" fill="#4D4D4D" stroke="#4D4D4D" text-anchor="end">Smoker</text>
<text transform="translate(227.39 804.57) rotate(-45) translate(0.00 6.70) scale(1 1.035)" font-size="9.3" fill="#4D4D4D" stroke="#4D4D4D" text-anchor="end">ASA treatment</text>
<text transform="translate(246.37 804.57) rotate(-45) translate(0.00 6.70) scale(1 1.035)" font-size="9.3" fill="#4D4D4D" stroke="#4D4D4D" text-anchor="end">COVID-19 antibodies</text>
<text transform="translate(265.35 804.57) rotate(-45) translate(0.00 6.70) scale(1 1.035)" font-size="9.3" fill="#4D4D4D" stroke="#4D4D4D" text-anchor="end">GA at inclusion</text>
<text transform="translate(284.32 804.57) rotate(-45) translate(0.00 6.70) scale(1 1.035)" font-size="9.3" fill="#4D4D4D" stroke="#4D4D4D" text-anchor="end">GA difference</text>
<text transform="translate(303.30 804.57) rotate(-45) translate(0.00 6.70) scale(1 1.035)" font-size="9.3" fill="#4D4D4D" stroke="#4D4D4D" text-anchor="end">GDM</text>
<text transform="translate(322.28 804.57) rotate(-45) translate(0.00 6.70) scale(1 1.035)" font-size="9.3" fill="#4D4D4D" stroke="#4D4D4D" text-anchor="end">IUI</text>
<text transform="translate(341.26 804.57) rotate(-45) translate(0.00 6.70) scale(1 1.035)" font-size="9.3" fill="#4D4D4D" stroke="#4D4D4D" text-anchor="end">IVF</text>
<text transform="translate(365.94 804.57) rotate(-45) translate(0.00 6.70) scale(1 1.035)" font-size="9.3" fill="#4D4D4D" stroke="#4D4D4D" text-anchor="end">GA, crown-rump length</text>
<text transform="translate(385.01 804.57) rotate(-45) translate(0.00 6.70) scale(1 1.035)" font-size="9.3" fill="#4D4D4D" stroke="#4D4D4D" text-anchor="end">PAPP-A, MoM</text>
<text transform="translate(404.09 804.57) rotate(-45) translate(0.00 6.70) scale(1 1.035)" font-size="9.3" fill="#4D4D4D" stroke="#4D4D4D" text-anchor="end">Sex - Girl</text>
<text transform="translate(423.16 804.57) rotate(-45) translate(0.00 6.70) scale(1 1.035)" font-size="9.3" fill="#4D4D4D" stroke="#4D4D4D" text-anchor="end">βHCG, MoM</text>
<text transform="translate(448.15 804.57) rotate(-45) translate(0.00 6.70) scale(1 1.035)" font-size="9.3" fill="#4D4D4D" stroke="#4D4D4D" text-anchor="end">C-sections, n</text>
<text transform="translate(467.15 804.57) rotate(-45) translate(0.00 6.70) scale(1 1.035)" font-size="9.3" fill="#4D4D4D" stroke="#4D4D4D" text-anchor="end">GDM</text>
<text transform="translate(486.15 804.57) rotate(-45) translate(0.00 6.70) scale(1 1.035)" font-size="9.3" fill="#4D4D4D" stroke="#4D4D4D" text-anchor="end">Live births, n</text>
<text transform="translate(505.15 804.57) rotate(-45) translate(0.00 6.70) scale(1 1.035)" font-size="9.3" fill="#4D4D4D" stroke="#4D4D4D" text-anchor="end">PE</text>
<text transform="translate(524.15 804.57) rotate(-45) translate(0.00 6.70) scale(1 1.035)" font-size="9.3" fill="#4D4D4D" stroke="#4D4D4D" text-anchor="end">PPH</text>
<text transform="translate(543.15 804.57) rotate(-45) translate(0.00 6.70) scale(1 1.035)" font-size="9.3" fill="#4D4D4D" stroke="#4D4D4D" text-anchor="end">Preterm labour</text>
<text transform="translate(567.96 804.57) rotate(-45) translate(0.00 6.70) scale(1 1.035)" font-size="9.3" fill="#4D4D4D" stroke="#4D4D4D" text-anchor="end">Conisatio</text>
<text transform="translate(586.77 804.57) rotate(-45) translate(0.00 6.70) scale(1 1.035)" font-size="9.3" fill="#4D4D4D" stroke="#4D4D4D" text-anchor="end">Endometriosis</text>
<text transform="translate(605.59 804.57) rotate(-45) translate(0.00 6.70) scale(1 1.035)" font-size="9.3" fill="#4D4D4D" stroke="#4D4D4D" text-anchor="end">PCOS</text>
<path d="M76.10 37.01H79.20M76.10 55.43H79.20M76.10 73.85H79.20M76.10 92.27H79.20M76.10 110.69H79.20M76.10 129.11H79.20M76.10 147.53H79.20M76.10 165.95H79.20M76.10 184.37H79.20M76.10 202.79H79.20M76.10 227.20H79.20M76.10 245.61H79.20M76.10 264.01H79.20M76.10 282.42H79.20M76.10 300.82H79.20M76.10 319.22H79.20M76.10 337.63H79.20M76.10 356.03H79.20M76.10 374.44H79.20M76.10 392.84H79.20M76.10 411.25H79.20M76.10 435.29H79.20M76.10 453.66H79.20M76.10 472.04H79.20M76.10 490.41H79.20M76.10 508.79H79.20M76.10 527.16H79.20M76.10 545.54H79.20M76.10 563.91H79.20M76.10 582.29H79.20M76.10 600.66H79.20M76.10 624.98H79.20M76.10 643.34H79.20M76.10 661.70H79.20M76.10 680.06H79.20M76.10 698.42H79.20M76.10 716.78H79.20M76.10 735.14H79.20M76.10 753.50H79.20M76.10 771.86H79.20M76.10 790.22H79.20M88.73 799.40V802.50M107.79 799.40V802.50M126.84 799.40V802.50M145.90 799.40V802.50M164.96 799.40V802.50M184.01 799.40V802.50M203.07 799.40V802.50M227.39 799.40V802.50M246.37 799.40V802.50M265.35 799.40V802.50M284.32 799.40V802.50M303.30 799.40V802.50M322.28 799.40V802.50M341.26 799.40V802.50M365.94 799.40V802.50M385.01 799.40V802.50M404.09 799.40V802.50M423.16 799.40V802.50M448.15 799.40V802.50M467.15 799.40V802.50M486.15 799.40V802.50M505.15 799.40V802.50M524.15 799.40V802.50M543.15 799.40V802.50M567.96 799.40V802.50M586.77 799.40V802.50M605.59 799.40V802.50" stroke="#333333" stroke-width="1.05" fill="none"/>
<text transform="translate(346.90 896.00)" font-size="11.5" fill="#000" stroke="#000" text-anchor="middle" style="stroke-width:0.12px">Exposure</text>
<text transform="translate(10.00 413.50) rotate(-90)" font-size="11.5" fill="#000" stroke="#000" text-anchor="middle" style="stroke-width:0.12px">Meso Scale marker</text>
<text transform="translate(631.50 373.20)" font-size="11.5" fill="#000" stroke="#000" style="stroke-width:0.12px">Effect size</text>
<defs><linearGradient id="lg" x1="0" y1="0" x2="0" y2="1"><stop offset="0.0000" stop-color="#67000d"/><stop offset="0.0250" stop-color="#6e1015"/><stop offset="0.0500" stop-color="#741c1d"/><stop offset="0.0750" stop-color="#7b2624"/><stop offset="0.1000" stop-color="#82302c"/><stop offset="0.1250" stop-color="#883934"/><stop offset="0.1500" stop-color="#8e423c"/><stop offset="0.1750" stop-color="#944b44"/><stop offset="0.2000" stop-color="#9a544d"/><stop offset="0.2250" stop-color="#a05c55"/><stop offset="0.2500" stop-color="#a6655e"/><stop offset="0.2750" stop-color="#ac6e67"/><stop offset="0.3000" stop-color="#b27770"/><stop offset="0.3250" stop-color="#b78079"/><stop offset="0.3500" stop-color="#bd8983"/><stop offset="0.3750" stop-color="#c2928c"/><stop offset="0.4000" stop-color="#c89b95"/><stop offset="0.4250" stop-color="#cda49f"/><stop offset="0.4500" stop-color="#d2aea9"/><stop offset="0.4750" stop-color="#d7b7b3"/><stop offset="0.5000" stop-color="#dcc0bd"/><stop offset="0.5250" stop-color="#e1cac7"/><stop offset="0.5500" stop-color="#e6d3d1"/><stop offset="0.5750" stop-color="#ebdddb"/><stop offset="0.6000" stop-color="#efe6e5"/><stop offset="0.6250" stop-color="#f4f0f0"/><stop offset="0.6500" stop-color="#f4f4f5"/><stop offset="0.6750" stop-color="#ebecf0"/><stop offset="0.7000" stop-color="#e3e3ea"/><stop offset="0.7250" stop-color="#dadbe4"/><stop offset="0.7500" stop-color="#d1d2df"/><stop offset="0.7750" stop-color="#c8cad9"/><stop offset="0.8000" stop-color="#c0c1d4"/><stop offset="0.8250" stop-color="#b7b9ce"/><stop offset="0.8500" stop-color="#aeb1c8"/><stop offset="0.8750" stop-color="#a6a9c3"/><stop offset="0.9000" stop-color="#9da1bd"/><stop offset="0.9250" stop-color="#9599b8"/><stop offset="0.9500" stop-color="#8c91b2"/><stop offset="0.9750" stop-color="#8389ad"/><stop offset="1.0000" stop-color="#7b81a8"/></linearGradient></defs>
<rect x="631.0" y="379.9" width="16.80" height="84.00" fill="url(#lg)"/>
<text transform="translate(653.30 388.33) scale(1 1.035)" font-size="9.3" fill="#4D4D4D" stroke="#4D4D4D">1.0</text>
<text transform="translate(653.30 412.78) scale(1 1.035)" font-size="9.3" fill="#4D4D4D" stroke="#4D4D4D">0.5</text>
<text transform="translate(653.30 437.23) scale(1 1.035)" font-size="9.3" fill="#4D4D4D" stroke="#4D4D4D">0.0</text>
<text transform="translate(653.30 461.68) scale(1 1.035)" font-size="9.3" fill="#4D4D4D" stroke="#4D4D4D">-0.5</text>
<path d="M631.00 384.98h3.4M644.40 384.98h3.4M631.00 409.43h3.4M644.40 409.43h3.4M631.00 433.88h3.4M644.40 433.88h3.4M631.00 458.33h3.4M644.40 458.33h3.4" stroke="#fff" stroke-width="0.6" fill="none"/>
</svg>
</body></html>
